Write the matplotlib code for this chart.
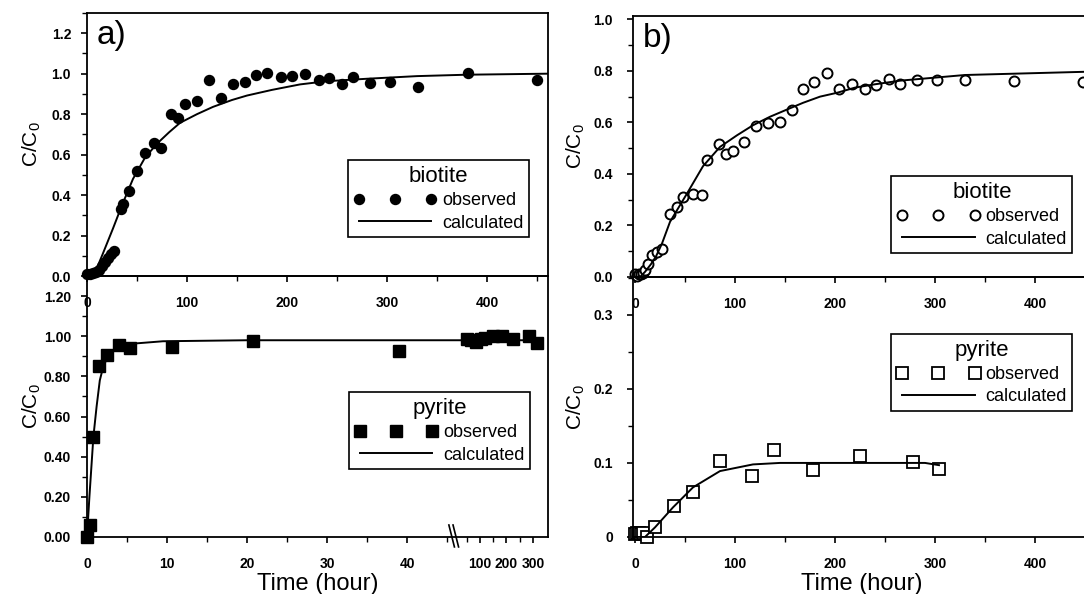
import matplotlib
matplotlib.use("Agg")
import matplotlib.pyplot as plt
import numpy as np
from matplotlib.ticker import FixedLocator, MultipleLocator, FormatStrFormatter

plt.rcParams['font.family'] = ['Liberation Sans', 'DejaVu Sans']
plt.rcParams['mathtext.default'] = 'regular'

# ---- data ----
# a) biotite
bio_a_t = [0, 3, 6, 9, 12, 15, 18, 21, 24, 27, 34, 36, 42, 50, 58, 67, 74, 84, 91, 98,
           110, 122, 134, 146, 158, 169, 180, 194, 205, 218, 232, 242, 255, 266, 283,
           303, 331, 381, 450]
bio_a_c = [0.01, 0.01, 0.015, 0.02, 0.03, 0.05, 0.07, 0.09, 0.11, 0.125, 0.33, 0.355,
           0.42, 0.52, 0.61, 0.655, 0.633, 0.80, 0.78, 0.848, 0.864, 0.968, 0.88, 0.947,
           0.958, 0.995, 1.005, 0.985, 0.99, 1.0, 0.967, 0.98, 0.947, 0.985, 0.955,
           0.958, 0.935, 1.005, 0.97]
bio_a_calc_t = [0, 7, 15, 26, 35, 46, 58, 70, 82, 93, 110, 126, 145, 160, 185, 213, 240,
                280, 330, 380, 460]
bio_a_calc_c = [0, 0.005, 0.1, 0.235, 0.35, 0.48, 0.585, 0.654, 0.71, 0.757, 0.80, 0.836,
                0.87, 0.892, 0.92, 0.947, 0.963, 0.975, 0.988, 0.995, 1.0]

# a) pyrite
pyr_a_t = [0, 0.4, 0.8, 1.5, 2.5, 4.0, 5.4, 10.6, 20.7, 39, 51, 68, 86, 105, 119, 151,
           182, 226, 286, 313]
pyr_a_c = [0.0, 0.058, 0.50, 0.85, 0.908, 0.958, 0.94, 0.945, 0.975, 0.925, 0.985, 0.98,
           0.972, 0.985, 0.99, 1.0, 1.0, 0.985, 1.0, 0.965]
pyr_a_calc_t = [0, 0.3, 0.8, 1.2, 1.6, 2.1, 3.2, 5.4, 9.5, 20, 40, 100, 310]
pyr_a_calc_c = [0, 0.2, 0.5, 0.65, 0.78, 0.86, 0.93, 0.962, 0.975, 0.98, 0.98, 0.98, 0.98]

# b) biotite
bio_b_t = [0, 2, 4, 6, 8, 10, 13, 17, 22, 27, 35, 42, 48, 58, 67, 72, 84, 91, 98, 109,
           121, 133, 145, 157, 168, 179, 192, 204, 217, 230, 241, 254, 265, 282, 302,
           330, 379, 448]
bio_b_c = [0.01, 0.005, 0.01, 0.01, 0.015, 0.026, 0.05, 0.084, 0.097, 0.11, 0.246,
           0.272, 0.311, 0.324, 0.318, 0.456, 0.516, 0.477, 0.49, 0.525, 0.585, 0.598,
           0.603, 0.65, 0.728, 0.758, 0.79, 0.728, 0.749, 0.728, 0.745, 0.767, 0.751,
           0.764, 0.764, 0.764, 0.761, 0.758]
bio_b_calc_t = [0, 5, 10, 16, 21, 27, 35, 52, 68, 85, 102, 118, 135, 152, 168, 185, 202,
                220, 240, 265, 330, 455]
bio_b_calc_c = [0, 0.0, 0.02, 0.05, 0.08, 0.13, 0.214, 0.324, 0.43, 0.505, 0.55, 0.589,
                0.622, 0.65, 0.676, 0.70, 0.715, 0.735, 0.748, 0.762, 0.784, 0.797]

# b) pyrite
pyr_b_t = [0, 2, 4, 6, 8, 12, 20, 39, 58, 85, 117, 139, 178, 225, 278, 304]
pyr_b_c = [0.004, 0.005, 0.006, 0.004, 0.005, 0.0, 0.0135, 0.0415, 0.061, 0.103, 0.083,
           0.118, 0.09, 0.109, 0.101, 0.092]
pyr_b_calc_t = [0, 10, 20, 38, 58, 85, 118, 145, 200, 250, 290, 304]
pyr_b_calc_c = [0, 0.0, 0.013, 0.04, 0.067, 0.089, 0.098, 0.1, 0.1, 0.1, 0.1, 0.097]

# broken time axis of the lower left panel: 0-46 h linear, then compressed
brk_hours = [-50, 46, 50, 1000]
brk_pos = [-50, 46, 47.44, 47.44 + 950 * 0.03325]


def brk_fwd(x):
    return np.interp(x, brk_hours, brk_pos)


def brk_inv(p):
    return np.interp(p, brk_pos, brk_hours)


W, H = 1084, 594
fig = plt.figure(figsize=(W / 100, H / 100), dpi=100)


def px_axes(left, right, top, bottom):
    return fig.add_axes([left / W, (H - bottom) / H, (right - left) / W, (bottom - top) / H])


ax_a1 = px_axes(87, 548, 13, 276)
ax_a2 = px_axes(87, 548, 276, 537)
ax_b1 = px_axes(633, 1090, 16, 277)
ax_b2 = px_axes(633, 1090, 277, 537)

for ax in (ax_a1, ax_a2, ax_b1, ax_b2):
    ax.patch.set_visible(False)
    for s in ax.spines.values():
        s.set_linewidth(1.3)
    ax.tick_params(which='major', length=4.5, width=1.2, labelsize=10)
    ax.tick_params(which='minor', length=3.5, width=1.0)
    ax.tick_params(axis='x', pad=10)
    for lab in ax.get_xticklabels() + ax.get_yticklabels():
        lab.set_fontweight('bold')


def style_ticks(ax):
    for lab in ax.get_xticklabels() + ax.get_yticklabels():
        lab.set_fontweight('bold')


def add_legend(ax, h_obs, h_calc, title, anchor):
    leg = ax.legend(handles=[h_obs, h_calc], title=title, loc='lower right',
                    bbox_to_anchor=anchor, numpoints=3, handlelength=4.6, fontsize=13,
                    title_fontsize=16, frameon=True, fancybox=False, edgecolor='k',
                    framealpha=1, borderpad=0.3, labelspacing=0.3, handletextpad=0.3,
                    borderaxespad=0)
    leg.get_frame().set_linewidth(1.2)


# ---- a) biotite ----
ax = ax_a1
h1, = ax.plot(bio_a_t, bio_a_c, 'o', color='k', ms=7.2, clip_on=False, label='observed')
h2, = ax.plot(bio_a_calc_t, bio_a_calc_c, '-', color='k', lw=1.4, label='calculated')
ax.set_xlim(0, 461)
ax.set_ylim(0, 1.3)
ax.xaxis.set_major_locator(MultipleLocator(100))
ax.xaxis.set_minor_locator(MultipleLocator(50))
ax.yaxis.set_major_locator(FixedLocator([0, 0.2, 0.4, 0.6, 0.8, 1.0, 1.2]))
ax.yaxis.set_minor_locator(MultipleLocator(0.1))
ax.yaxis.set_major_formatter(FormatStrFormatter('%.1f'))
ax.tick_params(axis='y', pad=7)
ax.set_ylabel('C/C$_0$', fontsize=15)
ax.yaxis.set_label_coords(-0.095, 0.5)
ax.text(0.02, 0.975, 'a)', transform=ax.transAxes, fontsize=24, va='top', ha='left')
add_legend(ax, h1, h2, 'biotite', (0.959, 0.148))

# ---- a) pyrite, broken time axis ----
ax = ax_a2
ax.set_xscale('function', functions=(brk_fwd, brk_inv))
h1, = ax.plot(pyr_a_t, pyr_a_c, 's', color='k', ms=8.5, clip_on=False, label='observed')
h2, = ax.plot(pyr_a_calc_t, pyr_a_calc_c, '-', color='k', lw=1.4, label='calculated')
ax.set_xlim(0, 356)
ax.set_ylim(0, 1.3)
ax.xaxis.set_major_locator(FixedLocator([0, 10, 20, 30, 40, 100, 200, 300]))
ax.xaxis.set_minor_locator(FixedLocator([5, 15, 25, 35, 45, 50, 150, 250]))
ax.set_xticklabels(['0', '10', '20', '30', '40', '100', '200', '300'])
ax.yaxis.set_major_locator(FixedLocator([0, 0.2, 0.4, 0.6, 0.8, 1.0, 1.2]))
ax.yaxis.set_minor_locator(MultipleLocator(0.1))
ax.yaxis.set_major_formatter(FormatStrFormatter('%.2f'))
ax.tick_params(axis='y', pad=7)
ax.set_ylabel('C/C$_0$', fontsize=15)
ax.yaxis.set_label_coords(-0.095, 0.5)
ax.set_xlabel('Time (hour)', fontsize=17, labelpad=1)
add_legend(ax, h1, h2, 'pyrite', (0.961, 0.26))
# axis break marks
for dx in (0.0, 0.009):
    ax.plot([0.785 + dx, 0.797 + dx], [0.046, -0.038], color='k', lw=1.2,
            transform=ax.transAxes, clip_on=False)

# ---- b) biotite ----
ax = ax_b1
h1, = ax.plot(bio_b_t, bio_b_c, 'o', mfc='white', mec='k', mew=1.4, ms=7.2,
              clip_on=False, label='observed')
h2, = ax.plot(bio_b_calc_t, bio_b_calc_c, '-', color='k', lw=1.4, label='calculated')
ax.set_xlim(-2, 455)
ax.set_ylim(0, 1.013)
ax.xaxis.set_major_locator(MultipleLocator(100))
ax.xaxis.set_minor_locator(MultipleLocator(50))
ax.yaxis.set_major_locator(MultipleLocator(0.2))
ax.yaxis.set_minor_locator(MultipleLocator(0.1))
ax.yaxis.set_major_formatter(FormatStrFormatter('%.1f'))
ax.tick_params(axis='y', pad=10)
ax.set_ylabel('C/C$_0$', fontsize=15)
ax.yaxis.set_label_coords(-0.10, 0.5)
ax.text(0.022, 0.975, 'b)', transform=ax.transAxes, fontsize=24, va='top', ha='left')
add_legend(ax, h1, h2, 'biotite', (0.961, 0.092))

# ---- b) pyrite ----
ax = ax_b2
h1, = ax.plot(pyr_b_t, pyr_b_c, 's', mfc='white', mec='k', mew=1.3, ms=8.5,
              clip_on=False, label='observed')
h2, = ax.plot(pyr_b_calc_t, pyr_b_calc_c, '-', color='k', lw=1.4, label='calculated')
ax.set_xlim(-2, 455)
ax.set_ylim(0, 0.351)
ax.xaxis.set_major_locator(MultipleLocator(100))
ax.xaxis.set_minor_locator(MultipleLocator(50))
ax.yaxis.set_major_locator(FixedLocator([0, 0.1, 0.2, 0.3]))
ax.yaxis.set_minor_locator(MultipleLocator(0.05))
ax.set_yticklabels(['0', '0.1', '0.2', '0.3'])
ax.tick_params(axis='y', pad=10)
ax.set_ylabel('C/C$_0$', fontsize=15)
ax.yaxis.set_label_coords(-0.10, 0.5)
ax.set_xlabel('Time (hour)', fontsize=17, labelpad=1)
add_legend(ax, h1, h2, 'pyrite', (0.961, 0.485))

for ax in (ax_a1, ax_a2, ax_b1, ax_b2):
    style_ticks(ax)

fig.savefig('out.png', dpi=100, facecolor='white')
